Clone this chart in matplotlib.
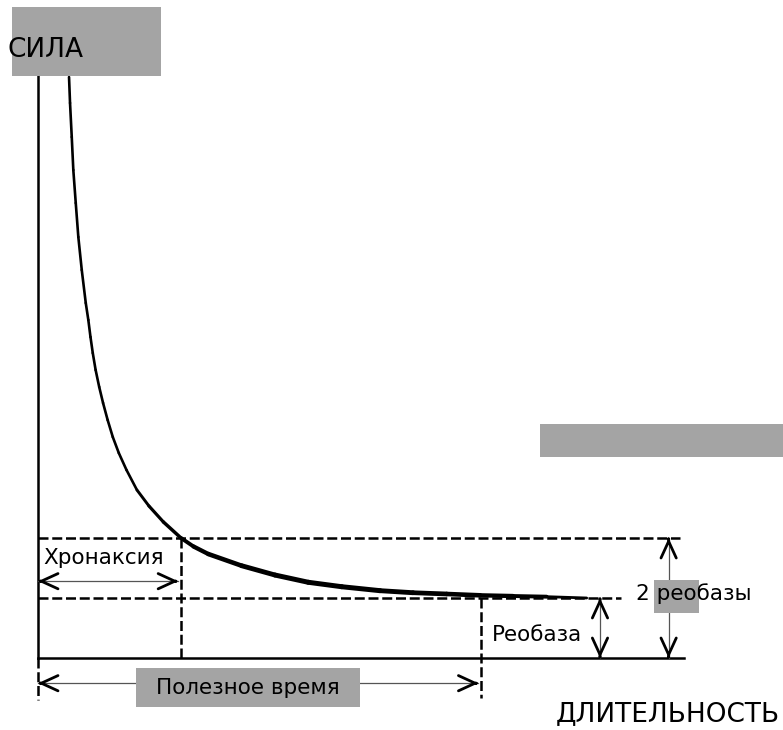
import numpy as np
import matplotlib.pyplot as plt
from matplotlib.collections import LineCollection
from matplotlib.patches import Rectangle

# кривая "сила - длительность" (время в хронаксиях, сила в реобазах)
duration = [0.217, 0.224, 0.236, 0.247, 0.264, 0.282, 0.306, 0.334, 0.352, 0.367,
            0.383, 0.403, 0.428, 0.455, 0.487, 0.523, 0.565, 0.619, 0.692, 0.776,
            0.877, 1.000, 1.088, 1.191, 1.424, 1.657, 1.890, 2.124, 2.392, 2.622,
            2.858, 3.091, 3.322, 3.557, 3.837]
strength = [9.683, 9.25, 8.683, 8.133, 7.583, 7.017, 6.467, 5.917, 5.633, 5.35,
            5.083, 4.80, 4.517, 4.25, 3.967, 3.683, 3.417, 3.133, 2.80, 2.533,
            2.267, 2.00, 1.858, 1.733, 1.538, 1.383, 1.262, 1.188, 1.122, 1.088,
            1.067, 1.045, 1.033, 1.022, 1.00]

rheobase = 1.0
chronaxie = 1.0
useful_time = 3.1

GRAY = '#a4a4a4'
FONT = 'DejaVu Sans'

fig = plt.figure(figsize=(7.83, 7.30), dpi=100)
ax = fig.add_axes([0, 0, 1, 1])
ax.set_xlim(-38 / 143, (783 - 38) / 143)
ax.set_ylim((658 - 730) / 60, 658 / 60)
ax.axis('off')


def arrow_head(tip, direction):
    # открытый наконечник на конце тонкой линии
    d = np.array(direction, dtype=float) * 0.02
    ax.annotate('', xy=tip, xytext=(tip[0] - d[0], tip[1] - d[1]),
                arrowprops=dict(arrowstyle='->,head_length=1.2,head_width=0.55',
                                lw=2.0, color='black', shrinkA=0, shrinkB=0),
                zorder=6)


def double_arrow(p0, p1):
    ax.plot([p0[0], p1[0]], [p0[1], p1[1]], color='#555555', lw=0.9, zorder=4)
    v = np.array(p1) - np.array(p0)
    v = v / np.linalg.norm(v)
    arrow_head(p1, v)
    arrow_head(p0, -v)


# оси
ax.plot([0, 0], [0, 9.7], color='black', lw=1.8, zorder=3)
ax.plot([0, 4.52], [0, 0], color='black', lw=1.8, zorder=3)

# кривая, утолщённая к хвосту
pts = np.column_stack([duration, strength])
segs = np.stack([pts[:-1], pts[1:]], axis=1)
widths = [1.9] * 18 + [2.1, 2.3, 2.5] + [2.8, 3.1, 3.3, 3.5, 3.6, 3.6, 3.6, 3.5, 3.4, 3.3, 3.1, 2.8, 2.0]
ax.add_collection(LineCollection(segs, linewidths=widths, colors='black',
                                 capstyle='round', joinstyle='round', zorder=5))

# пунктир
dash = dict(color='black', lw=1.8, linestyle=(0, (4, 1.5)), zorder=3)
ax.plot([0, 4.49], [2 * rheobase, 2 * rheobase], **dash)
ax.plot([0, 4.08], [rheobase, rheobase], **dash)
ax.plot([chronaxie, chronaxie], [2 * rheobase, 0], **dash)
ax.plot([useful_time, useful_time], [rheobase, -0.67], **dash)
ax.plot([0, 0], [0, -0.7], **dash)

# серые плашки
for (x, y, w, h) in [(-0.182, 9.7, 1.042, 1.15), (3.51, 3.35, 1.8, 0.55),
                     (0.685, -0.817, 1.565, 0.65), (4.31, 0.75, 0.315, 0.55)]:
    ax.add_patch(Rectangle((x, y), w, h, facecolor=GRAY, edgecolor='none', zorder=5.5))

# стрелки
double_arrow((0, 1.28), (0.98, 1.28))
double_arrow((0, -0.42), (3.08, -0.42))
double_arrow((3.93, rheobase), (3.93, 0))
double_arrow((4.41, 2 * rheobase), (4.41, 0))

# подписи
ax.text(-0.21, 10.13, 'СИЛА', fontsize=19, family=FONT, ha='left', va='center', zorder=7)
ax.text(5.19, -0.93, 'ДЛИТЕЛЬНОСТЬ', fontsize=19, family=FONT, ha='right', va='center', zorder=7)
ax.text(0.035, 1.67, 'Хронаксия', fontsize=15.5, family=FONT, ha='left', va='center', zorder=7)
ax.text(3.49, 0.38, 'Реобаза', fontsize=15.5, family=FONT, ha='center', va='center', zorder=7)
ax.text(4.18, 1.07, '2 реобазы', fontsize=15.5, family=FONT, ha='left', va='center', zorder=7)
ax.text(1.47, -0.5, 'Полезное время', fontsize=15.5, family=FONT, ha='center', va='center', zorder=7)

fig.savefig('out.png', dpi=100)
